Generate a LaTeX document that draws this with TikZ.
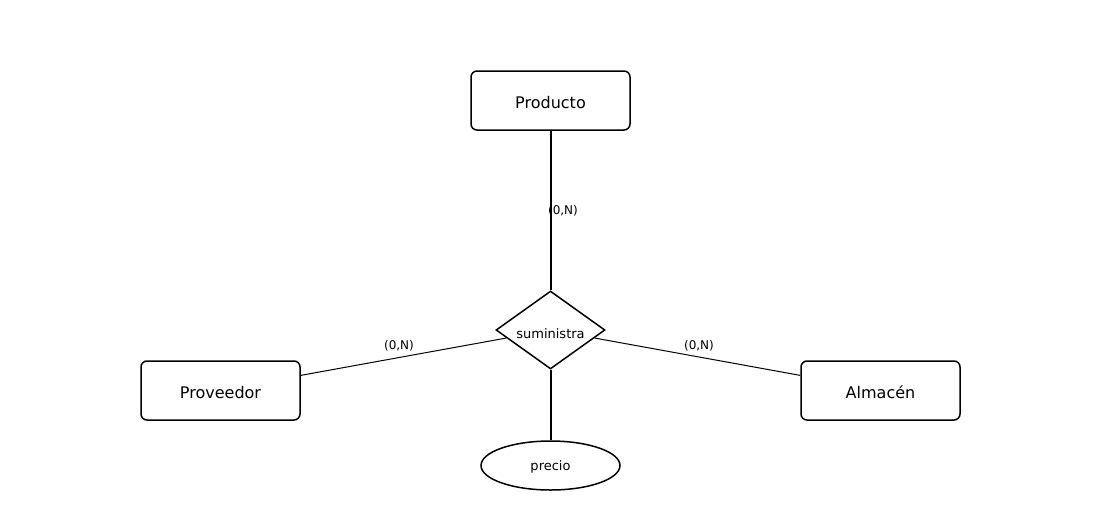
\documentclass[tikz,border=0pt]{standalone}
\usepackage{fontspec}
\setmainfont{DejaVu Sans}
\usetikzlibrary{shapes.geometric,calc}
% a label with no height or depth, lowered below its baseline
\newcommand\dropped[2]{\raisebox{-#1}[0pt][0pt]{#2}}
\begin{document}
\begin{tikzpicture}[x=1pt,y=-1pt,
  entity/.style={draw,line width=1.5pt,rounded corners=6pt,minimum width=159pt,minimum height=59pt,inner sep=0pt,
    font=\fontsize{16}{18}\selectfont},
  relation/.style={draw,diamond,line width=1.5pt,minimum width=109pt,minimum height=78pt,inner sep=0pt,
    font=\fontsize{13}{15}\selectfont},
  attribute/.style={draw,ellipse,line width=1.5pt,minimum width=139pt,minimum height=49pt,inner sep=0pt,
    font=\fontsize{13}{15}\selectfont},
  thick link/.style={line width=2pt},
  thin link/.style={line width=1pt},
  card/.style={font=\fontsize{12}{14}\selectfont,inner sep=0pt}]
\useasboundingbox (0,0) rectangle (1100,520);
% entities, relationship and attribute
\node[entity] (prod) at (550.5,100.5) {\dropped{8pt}{Producto}};
\node[entity] (prov) at (220.5,390.5) {\dropped{8pt}{Proveedor}};
\node[entity] (alm) at (880.5,390.5) {\dropped{8pt}{Almacén}};
\node[relation] (sum) at (550.5,330) {\dropped{8.5pt}{suministra}};
\node[attribute] (pre) at (550.5,465.5) {\dropped{4.8pt}{precio}};
% connectors
\coordinate (provp) at ($(prov.north east)!0.25!(prov.south east)$);
\coordinate (almp) at ($(alm.north west)!0.25!(alm.south west)$);
\draw[thick link] (prod.south) -- (sum.north);
\draw[thick link] (sum.south) -- (pre.north);
\draw[thin link] (provp) -- (sum);
\draw[thin link] (almp) -- (sum);
% cardinalities
\node[card] (c1) at (563,211) {(0,N)};
\node[card] (c2) at (399,346) {(0,N)};
\node[card] (c3) at (699,346) {(0,N)};
\end{tikzpicture}
\end{document}
